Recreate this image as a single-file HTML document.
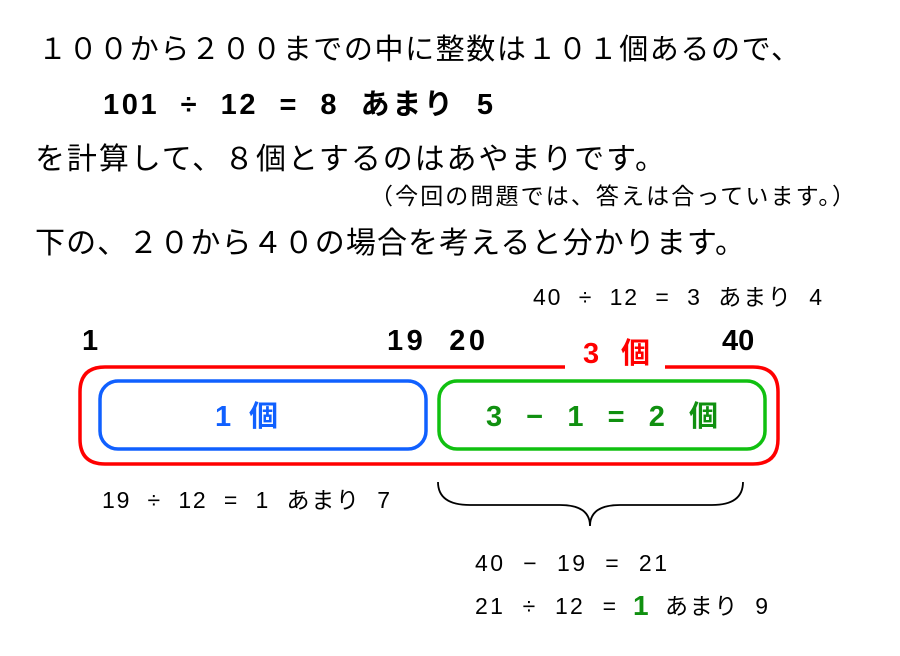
<!DOCTYPE html>
<html><head><meta charset="utf-8"><style>
html,body{margin:0;padding:0;background:#fff;}
svg{display:block;font-family:"Liberation Sans","Noto Sans CJK JP",sans-serif;}
</style></head><body>
<svg width="900" height="656" viewBox="0 0 900 656" xmlns="http://www.w3.org/2000/svg">
<g fill="#000">
<text x="38" y="59" font-size="29" textLength="762" lengthAdjust="spacing">１００から２００までの中に整数は１０１個あるので、</text>
<text x="103" y="114" font-size="29" font-weight="bold" textLength="390" lengthAdjust="spacing">101&#160;&#160;÷&#160;&#160;12&#160;&#160;=&#160;&#160;8&#160;&#160;あまり&#160;&#160;5</text>
<text x="35" y="169" font-size="30" textLength="630" lengthAdjust="spacing">を計算して、８個とするのはあやまりです。</text>
<text x="370" y="204" font-size="23" textLength="485" lengthAdjust="spacing">（今回の問題では、答えは合っています。）</text>
<text x="35" y="253" font-size="30" textLength="710" lengthAdjust="spacing">下の、２０から４０の場合を考えると分かります。</text>
<text x="533" y="305" font-size="23" textLength="289" lengthAdjust="spacing">40&#160;&#160;÷&#160;&#160;12&#160;&#160;=&#160;&#160;3&#160;&#160;あまり&#160;&#160;4</text>
<text x="82" y="350" font-size="29" font-weight="bold">1</text>
<text x="387" y="350" font-size="29" font-weight="bold" textLength="98" lengthAdjust="spacing">19&#160;&#160;20</text>
<text x="722" y="350" font-size="29" font-weight="bold">40</text>
<text x="102" y="508" font-size="23" textLength="288" lengthAdjust="spacing">19&#160;&#160;÷&#160;&#160;12&#160;&#160;=&#160;&#160;1&#160;&#160;あまり&#160;&#160;7</text>
<text x="475" y="571" font-size="23" textLength="192" lengthAdjust="spacing">40&#160;&#160;−&#160;&#160;19&#160;&#160;=&#160;&#160;21</text>
<text x="475" y="614" font-size="23" textLength="141" lengthAdjust="spacing">21&#160;&#160;÷&#160;&#160;12&#160;&#160;=</text>
<text x="633" y="615" font-size="28" font-weight="bold" fill="#109010">1</text>
<text x="665" y="614" font-size="23" textLength="103" lengthAdjust="spacing">あまり&#160;&#160;9</text>
</g>
<path d="M565 367 H105 Q80 367 80 392 V439 Q80 464 105 464 H753 Q778 464 778 439 V392 Q778 367 753 367 H665" fill="none" stroke="#f00" stroke-width="3.5"/>
<text x="583" y="363" font-size="29" font-weight="bold" fill="#f00" textLength="67" lengthAdjust="spacing">3 個</text>
<rect x="100" y="381" width="326" height="68" rx="18" fill="none" stroke="#1060ff" stroke-width="3.5"/>
<text x="215" y="426" font-size="29" font-weight="bold" fill="#1060ff" textLength="63" lengthAdjust="spacing">1 個</text>
<rect x="439" y="381" width="326" height="68" rx="18" fill="none" stroke="#10c010" stroke-width="3.5"/>
<text x="486" y="426" font-size="29" font-weight="bold" fill="#109010" textLength="232" lengthAdjust="spacing">3&#160;&#160;−&#160;&#160;1&#160;&#160;=&#160;&#160;2&#160;&#160;個</text>
<path d="M438 482 Q438 505 470 505 H560 Q590 505 590 526 Q590 505 620 505 H712 Q743 505 743 482" fill="none" stroke="#000" stroke-width="1.8"/>
</svg>
</body></html>
